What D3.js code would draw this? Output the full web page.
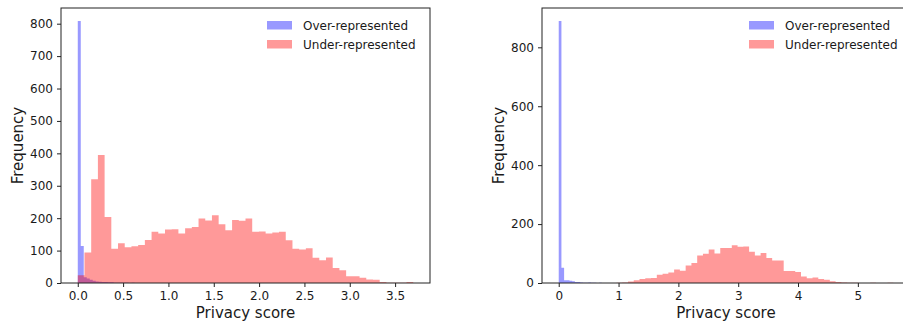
<!DOCTYPE html>
<html lang="en">
<head>
    <meta charset="UTF-8">
    <title>Privacy score histograms</title>
    <script src="https://d3js.org/d3.v7.min.js"></script>
    <style>
        body { margin: 0; background: #fff; }
        text { font-family: "DejaVu Sans", sans-serif; fill: #1a1a1a; }
    </style>
</head>
<body>

<svg width="903" height="322"></svg>
<script>

    // left panel: bin start, bin width, counts per bin
    var leftOverStart = 0, leftOverWidth = 0.033;
    var leftOver = [808, 114, 18, 14, 10, 7, 5, 4, 3, 3, 2, 2, 1, 1, 1, 1, 1, 0, 1, 0];
    var leftUnderStart = 0, leftUnderWidth = 0.074;
    var leftUnder = [24, 94, 320, 395, 204, 106, 123, 110, 113, 117,
                     133, 158, 153, 165, 166, 153, 169, 173, 199, 193,
                     209, 181, 163, 194, 192, 199, 158, 159, 153, 156,
                     158, 132, 106, 103, 107, 78, 70, 79, 46, 39,
                     21, 21, 16, 11, 10, 3, 1, 1, 1, 3];
    var leftXTicks = [0, 0.5, 1, 1.5, 2, 2.5, 3, 3.5];
    var leftYTicks = [0, 100, 200, 300, 400, 500, 600, 700, 800];

    // right panel
    var rightOverStart = 0, rightOverWidth = 0.045;
    var rightOver = [889, 52, 9, 9, 8, 6, 3, 3, 2, 1, 1, 2, 1, 1, 0, 1];
    var rightUnderStart = 0.772, rightUnderWidth = 0.0964;
    var rightUnder = [0, 0, 1, 2, 5, 9, 14, 16, 17, 28,
                      31, 36, 46, 42, 59, 68, 93, 99, 114, 100,
                      119, 119, 128, 123, 124, 106, 93, 102, 85, 76,
                      76, 41, 41, 37, 22, 16, 19, 14, 11, 6,
                      3, 2, 1, 1, 0, 0, 1, 0, 0, 1];
    var rightXTicks = [0, 1, 2, 3, 4, 5];
    var rightYTicks = [0, 200, 400, 600, 800];

    var seriesNames = ["Over-represented", "Under-represented"];
    var seriesColors = ["#0000ff", "#ff0000"];

    var svg = d3.select("svg");

    function toBins(start, width, counts) {
        return counts.map(function (c, i) {
            return {x0: start + i * width, x1: start + (i + 1) * width, n: c};
        });
    }

    function drawPanel(p) {
        var over = toBins(p.overStart, p.overWidth, p.over),
            under = toBins(p.underStart, p.underWidth, p.under);
        var all = over.concat(under).filter(function (d) { return d.n > 0; });
        var lo = d3.min(all, function (d) { return d.x0; }),
            hi = d3.max(all, function (d) { return d.x1; }),
            span = hi - lo;
        var ymax = d3.max(all, function (d) { return d.n; });

        var x = d3.scaleLinear().domain([lo - 0.05 * span, hi + 0.05 * span]).range([p.left, p.right]);
        var y = d3.scaleLinear().domain([0, ymax * 1.05]).range([p.bottom, p.top]);

        var g = svg.append("g");

        // each histogram as one stepped area, so no seams between bars
        var area = d3.area()
            .curve(d3.curveStepAfter)
            .x(function (d) { return x(d.x); })
            .y0(y(0))
            .y1(function (d) { return y(d.n); });

        [over, under].forEach(function (bins, k) {
            var pts = bins.map(function (d) { return {x: d.x0, n: d.n}; });
            var last = bins[bins.length - 1];
            pts.push({x: last.x1, n: last.n});
            g.append("path")
                .datum(pts)
                .attr("d", area)
                .attr("fill", seriesColors[k])
                .attr("fill-opacity", 0.4);
        });

        // frame
        g.append("rect")
            .attr("x", p.left).attr("y", p.top)
            .attr("width", p.right - p.left).attr("height", p.bottom - p.top)
            .attr("fill", "none").attr("stroke", "#222").attr("stroke-width", 1);

        var xAxis = g.append("g")
            .attr("transform", "translate(0," + p.bottom + ")")
            .call(d3.axisBottom(x).tickValues(p.xTicks).tickFormat(p.xFormat).tickSize(4).tickPadding(4));
        var yAxis = g.append("g")
            .attr("transform", "translate(" + p.left + ",0)")
            .call(d3.axisLeft(y).tickValues(p.yTicks).tickFormat(d3.format("d")).tickSize(4).tickPadding(4));
        [xAxis, yAxis].forEach(function (a) {
            a.select(".domain").remove();
            a.selectAll("line").attr("stroke", "#222");
            a.selectAll("text").attr("font-size", 12).attr("font-family", "DejaVu Sans").attr("fill", "#1a1a1a");
        });

        g.append("text")
            .attr("x", (p.left + p.right) / 2).attr("y", 318)
            .attr("text-anchor", "middle").attr("font-size", 15)
            .text("Privacy score");

        g.append("text")
            .attr("transform", "translate(" + (p.left - 38) + "," + ((p.top + p.bottom) / 2) + ") rotate(-90)")
            .attr("text-anchor", "middle").attr("font-size", 15)
            .text("Frequency");

        // legend
        var lg = g.append("g").attr("transform", "translate(" + p.legendX + ",20)");
        seriesNames.forEach(function (name, i) {
            lg.append("rect")
                .attr("x", 0).attr("y", i * 19 + 1)
                .attr("width", 25).attr("height", 8.5)
                .attr("fill", seriesColors[i]).attr("fill-opacity", 0.4);
            lg.append("text")
                .attr("x", 36).attr("y", i * 19 + 9.5)
                .attr("font-size", 12)
                .text(name);
        });
    }

    drawPanel({
        left: 61, right: 430, top: 8, bottom: 283,
        overStart: leftOverStart, overWidth: leftOverWidth, over: leftOver,
        underStart: leftUnderStart, underWidth: leftUnderWidth, under: leftUnder,
        xTicks: leftXTicks, yTicks: leftYTicks, xFormat: d3.format(".1f"),
        legendX: 267
    });

    drawPanel({
        left: 542, right: 910, top: 8, bottom: 283,
        overStart: rightOverStart, overWidth: rightOverWidth, over: rightOver,
        underStart: rightUnderStart, underWidth: rightUnderWidth, under: rightUnder,
        xTicks: rightXTicks, yTicks: rightYTicks, xFormat: d3.format("d"),
        legendX: 749
    });

</script>

</body>
</html>
